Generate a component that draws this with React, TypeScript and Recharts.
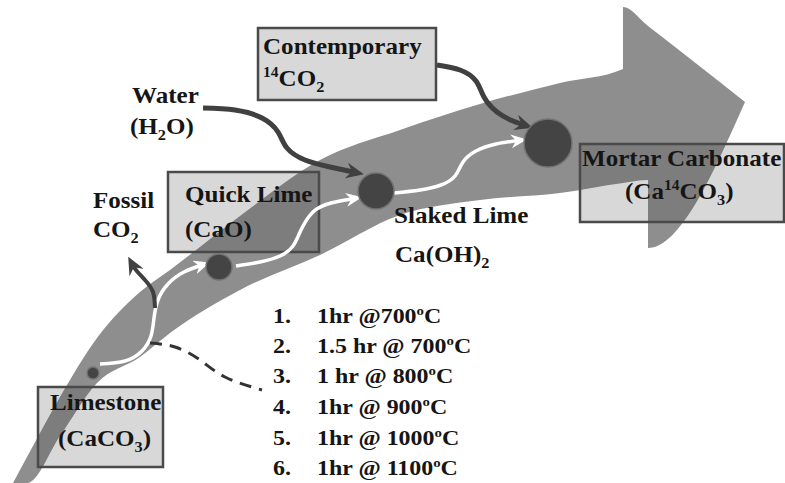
import React from "react";
import {
  ComposedChart,
  Area,
  Line,
  Scatter,
  XAxis,
  YAxis,
  ReferenceArea,
} from "recharts";

// diagram is laid out in a 785 x 483 data space (y grows downward)
const W = 785;
const H = 483;

// big curved process arrow: top and bottom edge at each x
const bandX = [13, 27, 60, 97, 140, 170, 240, 320, 400, 480, 560, 623, 623, 648, 648, 745];
const bandTop = [483, 457, 397, 338, 292, 270, 216, 160, 130, 104, 83, 69, 7, 26, 26, 102];
const bandBottom = [483, 483, 436, 383, 357, 333, 290, 255, 215, 200, 193, 183, 183, 180, 248, 102];

// reaction stages (circles)
const stages = [
  { name: "Limestone", x: 93, y: 373 },
  { name: "Quick Lime", x: 219, y: 267 },
  { name: "Slaked Lime", x: 376, y: 191 },
  { name: "Mortar", x: 548, y: 143 },
];

// white flow arrows between stages
const flowLimeToQuick = [
  { x: 100, y: 364 }, { x: 125, y: 361 }, { x: 142, y: 351 }, { x: 151, y: 336 },
  { x: 154, y: 318 }, { x: 158, y: 300 }, { x: 168, y: 284 }, { x: 184, y: 272 }, { x: 205, y: 264 },
];
const flowQuickToSlaked = [
  { x: 236, y: 266 }, { x: 260, y: 262 }, { x: 280, y: 256 }, { x: 293, y: 246 },
  { x: 301, y: 230 }, { x: 313, y: 212 }, { x: 331, y: 203 }, { x: 357, y: 198 },
];
const flowSlakedToMortar = [
  { x: 394, y: 193 }, { x: 420, y: 190 }, { x: 441, y: 185 }, { x: 455, y: 176 },
  { x: 463, y: 162 }, { x: 476, y: 151 }, { x: 496, y: 144 }, { x: 522, y: 140 },
];

// dark input / output arrows
const waterArrow = [
  { x: 203, y: 108 }, { x: 235, y: 110 }, { x: 262, y: 118 }, { x: 278, y: 132 },
  { x: 287, y: 148 }, { x: 305, y: 160 }, { x: 330, y: 167 }, { x: 358, y: 173 },
];
const co2InArrow = [
  { x: 437, y: 65 }, { x: 460, y: 70 }, { x: 476, y: 81 }, { x: 484, y: 97 },
  { x: 497, y: 112 }, { x: 513, y: 121 }, { x: 527, y: 126 },
];
const fossilArrow = [
  { x: 155, y: 308 }, { x: 153, y: 292 }, { x: 145, y: 280 }, { x: 136, y: 270 }, { x: 131, y: 262 },
];
const dashedLeader = [
  { x: 150, y: 343 }, { x: 175, y: 347 }, { x: 200, y: 360 }, { x: 225, y: 377 }, { x: 262, y: 390 },
];

// labelled boxes
const boxes = [
  { name: "Contemporary", x1: 258, x2: 436, y1: 28, y2: 100 },
  { name: "Quick Lime", x1: 168, x2: 319, y1: 172, y2: 252 },
  { name: "Mortar Carbonate", x1: 580, x2: 784, y1: 144, y2: 222 },
  { name: "Limestone", x1: 38, x2: 163, y1: 387, y2: 467 },
];

// text ( _x = subscript, ^{..} = superscript )
const labels = [
  { text: "Contemporary", x: 263, y: 54 },
  { text: "^{14}CO_2", x: 263, y: 86 },
  { text: "Water", x: 132, y: 103 },
  { text: "(H_2O)", x: 130, y: 134 },
  { text: "Fossil", x: 93, y: 208 },
  { text: "CO_2", x: 93, y: 237 },
  { text: "Quick Lime", x: 185, y: 202 },
  { text: "(CaO)", x: 185, y: 237 },
  { text: "Slaked Lime", x: 394, y: 223 },
  { text: "Ca(OH)_2", x: 395, y: 262 },
  { text: "Mortar Carbonate", x: 582, y: 166 },
  { text: "(Ca^{14}CO_3)", x: 625, y: 199 },
  { text: "Limestone", x: 50, y: 410 },
  { text: "(CaCO_3)", x: 58, y: 446 },
];

const listNumbers = ["1.", "2.", "3.", "4.", "5.", "6."];
const listConditions = [
  "1hr @700^oC",
  "1.5 hr @ 700^oC",
  "1 hr @ 800^oC",
  "1hr @ 900^oC",
  "1hr @ 1000^oC",
  "1hr @ 1100^oC",
];
const listY = [323, 353, 383, 414, 445, 475];

const bandData = bandX.map((x, i) => ({ x, range: [bandBottom[i], bandTop[i]] }));
const listData = [
  ...listNumbers.map((t, i) => ({ text: t, x: 273, y: listY[i], small: true })),
  ...listConditions.map((t, i) => ({ text: t, x: 317, y: listY[i], small: true })),
];

const stageRadius: Record<string, number> = {
  Limestone: 6,
  "Quick Lime": 13,
  "Slaked Lime": 18,
  Mortar: 24,
};

const FONT = "'Liberation Serif', 'Times New Roman', serif";
const INK = "#151515";
const DARK = "#404040";

function richText(str: string, fs: number) {
  const parts = str.split(/(\^\{[^}]+\}|_\{[^}]+\}|\^.|_.)/).filter((p) => p !== "");
  let cur = 0;
  return parts.map((p, i) => {
    let target = 0;
    let txt = p;
    let size = fs;
    if (p[0] === "^") {
      target = -0.38 * fs;
      size = 0.62 * fs;
      txt = p[1] === "{" ? p.slice(2, -1) : p.slice(1);
    } else if (p[0] === "_") {
      target = 0.25 * fs;
      size = 0.65 * fs;
      txt = p[1] === "{" ? p.slice(2, -1) : p.slice(1);
    }
    const dy = target - cur;
    cur = target;
    return (
      <tspan key={i} dy={dy} fontSize={size}>
        {txt}
      </tspan>
    );
  });
}

// the source type is a little wider than plain Times, so stretch it horizontally
const TextShape = (props: any) => {
  const { cx, cy, payload } = props;
  const fs = payload.small ? 21 : 23;
  const sx = payload.small ? 1.14 : 1.09;
  return (
    <text
      x={0}
      y={0}
      transform={`translate(${cx},${cy}) scale(${sx},1)`}
      fontFamily={FONT}
      fontWeight="bold"
      fontSize={fs}
      fill={INK}
    >
      {richText(payload.text, fs)}
    </text>
  );
};

const StageShape = (props: any) => {
  const { cx, cy, payload } = props;
  return (
    <circle cx={cx} cy={cy} r={stageRadius[payload.name]} fill="#444" stroke="#727272" strokeWidth={1.5} />
  );
};

export default function App() {
  return (
    <div style={{ position: "absolute", left: 0, top: 0, width: W, height: H, background: "#fff" }}>
      <ComposedChart width={W} height={H} margin={{ top: 0, right: 0, bottom: 0, left: 0 }}>
        <defs>
          <marker id="headWhite" viewBox="0 0 16 14" refX="11" refY="7" markerWidth="16" markerHeight="14"
            markerUnits="userSpaceOnUse" orient="auto">
            <path d="M0,0 L16,7 L0,14 L5,7 Z" fill="#fff" />
          </marker>
          <marker id="headDark" viewBox="0 0 18 16" refX="12" refY="8" markerWidth="18" markerHeight="16"
            markerUnits="userSpaceOnUse" orient="auto">
            <path d="M0,0 L18,8 L0,16 L6,8 Z" fill={DARK} />
          </marker>
        </defs>
        <XAxis type="number" dataKey="x" domain={[0, W]} hide allowDataOverflow />
        <YAxis type="number" dataKey="y" domain={[0, H]} reversed hide allowDataOverflow />

        <Area
          data={bandData}
          dataKey="range"
          type="monotone"
          stroke="none"
          fill="#8e8e8e"
          fillOpacity={1}
          activeDot={false}
          isAnimationActive={false}
        />

        {boxes.map((b) => (
          <ReferenceArea
            key={b.name}
            x1={b.x1}
            x2={b.x2}
            y1={b.y1}
            y2={b.y2}
            fill="#3c3c3c"
            fillOpacity={0.2}
            stroke="#4a4a4a"
            strokeWidth={2.5}
            strokeOpacity={1}
          />
        ))}

        {[flowLimeToQuick, flowQuickToSlaked, flowSlakedToMortar].map((d, i) => (
          <Line
            key={"flow" + i}
            data={d}
            dataKey="y"
            type="natural"
            stroke="#ffffff"
            strokeWidth={3.5}
            dot={false}
            activeDot={false}
            markerEnd="url(#headWhite)"
            isAnimationActive={false}
          />
        ))}

        {[waterArrow, co2InArrow].map((d, i) => (
          <Line
            key={"in" + i}
            data={d}
            dataKey="y"
            type="natural"
            stroke={DARK}
            strokeWidth={5}
            dot={false}
            activeDot={false}
            markerEnd="url(#headDark)"
            isAnimationActive={false}
          />
        ))}
        <Line
          data={fossilArrow}
          dataKey="y"
          type="natural"
          stroke={DARK}
          strokeWidth={4}
          dot={false}
          activeDot={false}
          markerEnd="url(#headDark)"
          isAnimationActive={false}
        />
        <Line
          data={dashedLeader}
          dataKey="y"
          type="natural"
          stroke="#333"
          strokeWidth={3}
          strokeDasharray="12 8"
          dot={false}
          activeDot={false}
          isAnimationActive={false}
        />

        <Scatter data={stages} dataKey="y" shape={StageShape} isAnimationActive={false} />
        <Scatter data={labels} dataKey="y" shape={TextShape} isAnimationActive={false} />
        <Scatter data={listData} dataKey="y" shape={TextShape} isAnimationActive={false} />
      </ComposedChart>
    </div>
  );
}
